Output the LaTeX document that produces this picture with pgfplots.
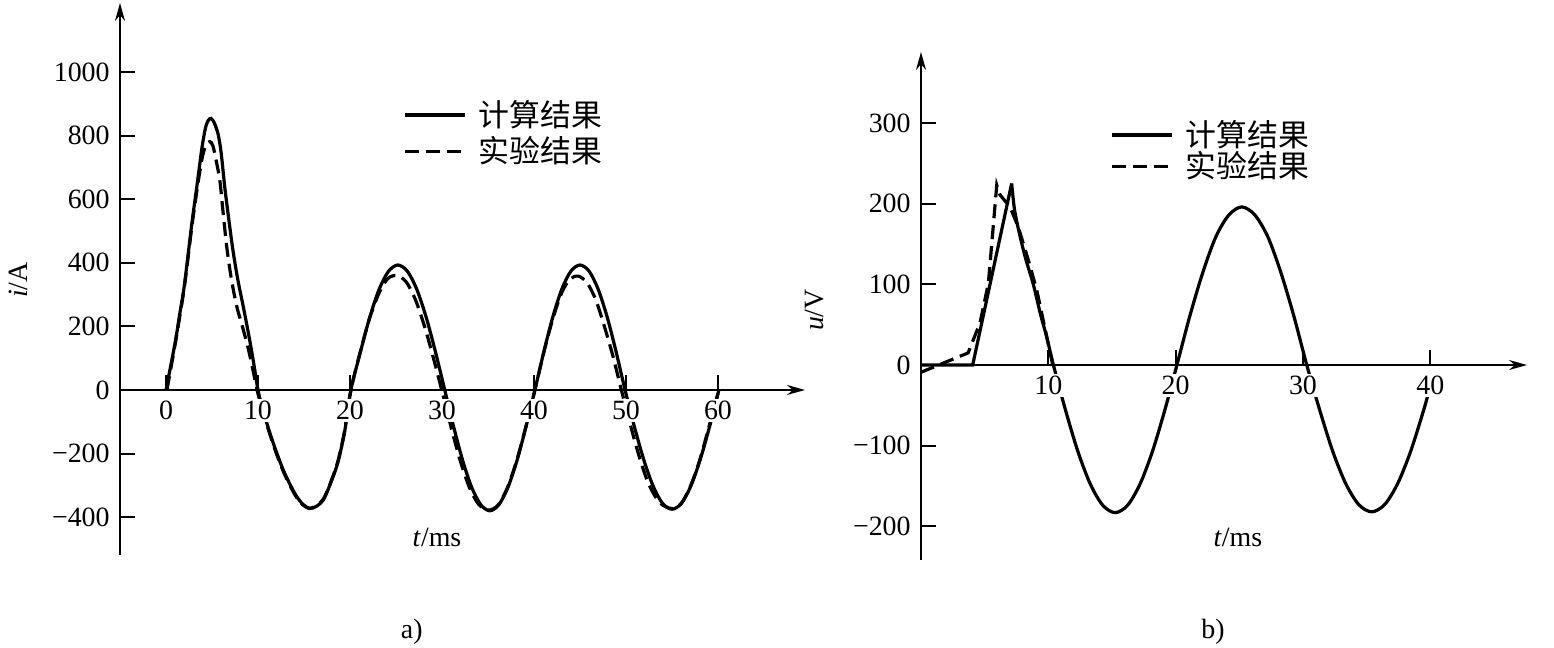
\documentclass[border=0pt]{standalone}
\usepackage{fontspec}
\setmainfont{Liberation Serif}
\newfontfamily\cjk{Noto Sans CJK SC}
\usepackage{pgfplots}
\pgfplotsset{compat=1.18}
\usetikzlibrary{arrows.meta}

\pgfplotsset{
  myaxis/.style={
    scale only axis,
    clip=false,
    axis x line=middle, axis y line=left,
    axis line style={line width=1bp, -{Stealth[length=9bp,width=5bp]}},
    tick style={line width=1bp, black},
    major tick length=7.5bp,
    tick align=inside,
    axis on top,
    hide obscured x ticks=false, hide obscured y ticks=false,
    font=\fontsize{14}{16}\selectfont,
    /pgf/number format/assume math mode=true,
    xticklabel style={fill=white, inner sep=1bp, yshift=-4.5bp},
    yticklabel style={fill=white, inner sep=1bp, xshift=-4bp},
    legend style={draw=none, fill=none, inner sep=0pt, font=\fontsize{15.5}{18}\selectfont\cjk,
      nodes={inner sep=1bp}},
    legend image code/.code={\draw[#1] (0bp,0bp) -- (30bp,0bp);},
    legend cell align=left,
    /tikz/every odd column/.append style={column sep=5bp},
  },
  calc/.style={black, line width=1.6bp},
  expe/.style={black, line width=1.6bp, dash pattern=on 7bp off 3.5bp},
}

\begin{document}
\begin{tikzpicture}
\path[use as bounding box] (0,0) rectangle (777bp,324bp);

% ---------------- panel a ----------------
\begin{axis}[myaxis,
  at={(60bp,46.5bp)}, anchor=south west,
  width=342.5bp, height=276bp,
  xmin=-5, xmax=69.46, ymin=-519, ymax=1217,
  xtick={0,10,20,30,40,50,60},
  ytick={-400,-200,0,200,400,600,800,1000},
  yticklabels={−400,−200,0,200,400,600,800,1000},
  xlabel={\textit{t}/ms}, ylabel={\textit{i}/A},
  every axis x label/.style={at={(axis description cs:0.4628,0.0326)}, anchor=center},
  every axis y label/.style={at={(axis description cs:-0.149,0.498)}, rotate=90, anchor=center},
  legend style={at={(axis cs:25.76,918)}, anchor=north west, row sep=1.5bp},
]
\addplot[calc, smooth] coordinates {
(0,0)(1,150)(1.5,240)(2,330)(2.8,521)(3.4,650)(3.9,760)(4.3,825)(4.6,848)(4.9,854)
(5.2,843)(5.45,825)(5.7,800)(6.0,745)(6.4,635)(6.9,520)(7.3,435)(7.8,348)(8.4,262)
(9.0,172)(9.5,90)(10,0)
(10.5,-60)(11.3,-136)(12,-195)(12.75,-252)(13.5,-298)(14.2,-335)(14.9,-360)(15.65,-373)
(16.4,-365)(17.1,-346)(17.8,-300)(18.55,-241)(19.0,-190)(19.45,-126)(20.1,0)
(21.12,118)(22.14,228)(23.16,316)(24.18,373)(25.2,393)(26.22,374)(27.24,318)(28.26,231)(29.28,121)(30.3,0)
(31.28,-117)(32.26,-223)(33.24,-307)(34.22,-361)(35.2,-380)(36.18,-361)(37.16,-307)(38.14,-223)(39.12,-117)(40.1,0)
(41.08,121)(42.06,231)(43.04,318)(44.02,374)(45.0,393)(45.98,374)(46.96,318)(47.94,231)(48.92,121)(49.9,0)
(50.92,-116)(51.94,-220)(52.96,-303)(53.98,-357)(55.0,-375)(56.02,-357)(57.04,-303)(58.06,-220)(59.08,-116)(60.1,0)
};
\addlegendentry{计算结果}
\addplot[expe, smooth] coordinates {
(0.1,0)(1,145)(2,325)(2.8,512)(3.4,635)(3.9,725)(4.3,768)(4.75,781)(5.1,768)(5.5,715)
(5.87,655)(6.2,560)(6.6,451)(7.1,350)(7.7,262)(8.3,200)(8.9,135)(9.4,70)(9.9,0)
(10.5,-65)(11.3,-140)(12,-200)(12.75,-256)(13.5,-302)(14.2,-338)(14.9,-362)(15.6,-372)
(16.4,-363)(17.1,-343)(17.8,-298)(18.55,-238)(19.0,-186)(19.45,-122)(20.1,0)
(21.12,120)(22.14,226)(23.16,305)(24.1,350)(25.1,360)(26.1,340)(27.1,285)(28.1,200)(29.0,108)(29.97,0)
(31.0,-118)(32.0,-224)(33.0,-308)(34.0,-360)(35.05,-378)(36.1,-362)(37.1,-308)(38.1,-224)(39.1,-118)(40.1,0)
(41.08,120)(42.06,225)(43.0,305)(43.9,348)(44.8,358)(45.75,338)(46.7,285)(47.6,205)(48.55,110)(49.5,0)
(50.5,-112)(51.5,-215)(52.5,-298)(53.7,-355)(55.0,-373)(56.0,-357)(57.0,-303)(58.0,-222)(59.0,-118)(60.1,0)
};
\addlegendentry{实验结果}
\node[font=\fontsize{14}{16}\selectfont] at (axis description cs:0.426,-0.1395) {a)};
\end{axis}

% ---------------- panel b ----------------
\begin{axis}[myaxis,
  at={(460.5bp,44bp)}, anchor=south west,
  width=303bp, height=254bp,
  xmin=0, xmax=47.6, ymin=-241.7, ymax=388,
  xtick={10,20,30,40},
  ytick={-200,-100,0,100,200,300},
  yticklabels={−200,−100,0,100,200,300},
  xlabel={\textit{t}/ms}, ylabel={\textit{u}/V},
  every axis x label/.style={at={(axis description cs:0.523,0.045)}, anchor=center},
  every axis y label/.style={at={(axis description cs:-0.175,0.492)}, rotate=90, anchor=center},
  legend style={at={(axis cs:14.85,306)}, anchor=north west, row sep=-1bp},
]
\addplot[calc] coordinates {(0,0)(4.06,0)(7.12,225)};
\addlegendentry{计算结果}
\addplot[expe] coordinates {
(0,-9)(3.7,15)(4.63,52)(5.29,101)(5.95,223)(6.2,211)(6.99,196)(7.64,171)(8.43,130)(9.09,93)(9.7,48)(10.35,0)
};
\addlegendentry{实验结果}
\addplot[calc, smooth, forget plot] coordinates {
(7.12,225)(7.35,192)(7.7,165)(8.2,133)(8.82,100)(9.4,62)(9.87,35)(10.4,0)
(11.37,-57)(12.34,-108)(13.31,-148)(14.28,-174)(15.25,-183)(16.22,-174)(17.19,-148)(18.16,-108)(19.13,-57)(20.1,0)
(21.12,61)(22.14,115)(23.16,159)(24.18,186)(25.2,196)(26.22,186)(27.24,159)(28.26,115)(29.28,61)(30.3,0)
(31.32,-56)(32.34,-107)(33.36,-147)(34.38,-173)(35.4,-182)(36.42,-173)(37.44,-147)(38.46,-107)(39.48,-56)(39.9,-32)
};
\node[font=\fontsize{14}{16}\selectfont] at (axis description cs:0.482,-0.1417) {b)};
\end{axis}
\end{tikzpicture}
\end{document}
